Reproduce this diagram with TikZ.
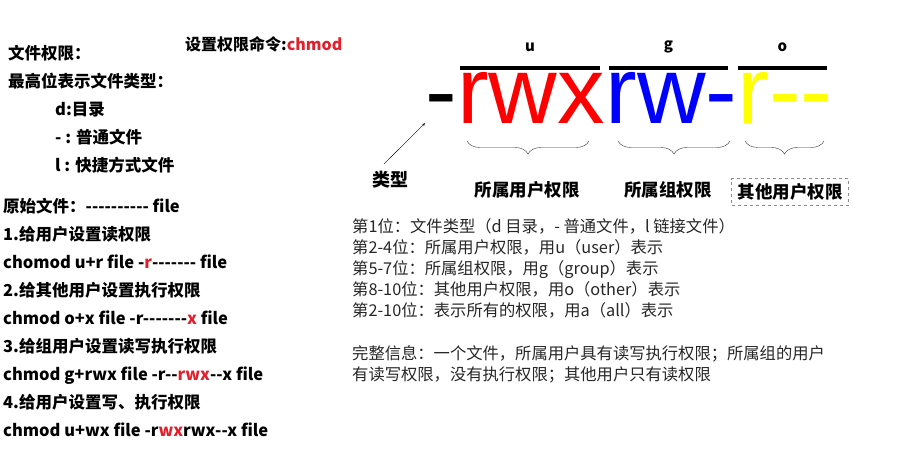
\documentclass[tikz,border=0pt]{standalone}
\usepackage{fontspec}
\usepackage{xcolor}
\usepackage{tikz}
\usetikzlibrary{arrows,decorations.pathreplacing,calc,positioning}

\newfontfamily\cjk{Noto Sans CJK SC}
\newfontfamily\bigarial{Liberation Sans}
\definecolor{cmdred}{RGB}{226,32,44}
\definecolor{permred}{RGB}{255,0,0}
\definecolor{permblue}{RGB}{0,0,255}
\definecolor{permyellow}{RGB}{255,255,0}

\begin{document}
\begin{tikzpicture}[
        x=1pt, y=-1pt,
        line/.style={inner sep=0pt, anchor=west, font=\cjk\bfseries\fontsize{16.5}{17}\selectfont, text height=12pt, text depth=3pt},
        note/.style={inner sep=0pt, anchor=west, font=\cjk\fontsize{16.3}{17}\selectfont, text=black!85, text height=12pt, text depth=3pt},
        big/.style={inner sep=0pt, anchor=base west, font=\bigarial\fontsize{95}{95}\selectfont, text height=66pt, text depth=0pt},
        bar/.style={line width=4.5pt},
        grp/.style={inner sep=1pt, font=\cjk\bfseries\fontsize{15}{16}\selectfont},
        part/.style={font=\cjk\bfseries\fontsize{17.5}{18}\selectfont},
        curly/.style={draw=black!80, thin, decorate, decoration={brace, mirror, amplitude=13pt}}
    ]
        \useasboundingbox (0,0) rectangle (909,453);

        % left column
        \node[line] (perm) at (8,55) {文件权限：};
        \node[line, below=28pt of perm.west, anchor=west] (high) {最高位表示文件类型：};
        \node[line, below=28pt of high.west, anchor=west, xshift=47pt] (tdir) {d:目录};
        \node[line, below=28pt of tdir.west, anchor=west] (tfile) {- : 普通文件};
        \node[line, below=28pt of tfile.west, anchor=west] (tlink) {l : 快捷方式文件};

        \node[line] (orig) at (3,208) {原始文件：---------- file};
        \node[line, below=28pt of orig.west, anchor=west] (s1) {1.给用户设置读权限};
        \node[line, below=28pt of s1.west, anchor=west] (c1) {chomod u+r file -\textcolor{cmdred}{r}------- file};
        \node[line, below=28pt of c1.west, anchor=west] (s2) {2.给其他用户设置执行权限};
        \node[line, below=28pt of s2.west, anchor=west] (c2) {chmod o+x file -r-------\textcolor{cmdred}{x} file};
        \node[line, below=28pt of c2.west, anchor=west] (s3) {3.给组用户设置读写执行权限};
        \node[line, below=28pt of s3.west, anchor=west] (c3) {chmod g+rwx file -r--\textcolor{cmdred}{rwx}--x file};
        \node[line, below=28pt of c3.west, anchor=west] (s4) {4.给用户设置写、执行权限};
        \node[line, below=28pt of s4.west, anchor=west] (c4) {chmod u+wx file -r\textcolor{cmdred}{wx}rwx--x file};

        \node[line, font=\cjk\bfseries\fontsize{16}{17}\selectfont] (cmd) at (185,46) {设置权限命令:\textcolor{cmdred}{chmod}};

        % permission string
        \node[big] (ptype) at (425,123) {-};
        \node[big, text=permred, right=0pt of ptype.base east, anchor=base west] (puser) {rwx};
        \node[big, text=permblue, right=0pt of puser.base east, anchor=base west] (pgroup) {rw-};
        \node[big, text=permyellow, right=0pt of pgroup.base east, anchor=base west] (pother) {r--};

        \coordinate (ul) at (460,68);  \coordinate (ur) at (600,68);
        \coordinate (gl) at (609,68);  \coordinate (gr) at (728,68);
        \coordinate (ol) at (738,68);  \coordinate (or) at (827,68);
        \draw[bar] (ul) -- (ur);
        \draw[bar] (gl) -- (gr);
        \draw[bar] (ol) -- (or);
        \node[grp] (lu) at ($(ul)!0.5!(ur)+(0,-21)$) {u};
        \node[grp] (lg) at ($(gl)!0.5!(gr)+(0,-21)$) {g};
        \node[grp] (lo) at ($(ol)!0.5!(or)+(0,-21)$) {o};

        % braces and labels
        \coordinate (bu1) at (467,141); \coordinate (bu2) at (589,141);
        \coordinate (bg1) at (618,141); \coordinate (bg2) at (730,141);
        \coordinate (bo1) at (745,141); \coordinate (bo2) at (824,141);
        \draw[curly] (bu1) -- (bu2);
        \draw[curly] (bg1) -- (bg2);
        \draw[curly] (bo1) -- (bo2);
        \node[part] (nuser) at (527,190) {所属用户权限};
        \node[part] (ngroup) at (668,190) {所属组权限};
        \node[part, draw=black!45, dashed, thin, inner xsep=6pt, inner ysep=5pt] (nother) at (790,192) {其他用户权限};

        \node[part, font=\cjk\bfseries\fontsize{18}{19}\selectfont] (ntype) at (390,180) {类型};
        \coordinate (tail) at ($(ntype.north)+(-6,-4)$);
        \draw[->, >=stealth, thin] (tail) -- (ptype.south west);

        % notes
        \node[note] (n1) at (352,228) {第1位：文件类型（d 目录，- 普通文件，l 链接文件）};
        \node[note, below=21pt of n1.west, anchor=west] (n2) {第2-4位：所属用户权限，用u（user）表示};
        \node[note, below=21pt of n2.west, anchor=west] (n3) {第5-7位：所属组权限，用g（group）表示};
        \node[note, below=21pt of n3.west, anchor=west] (n4) {第8-10位：其他用户权限，用o（other）表示};
        \node[note, below=21pt of n4.west, anchor=west] (n5) {第2-10位：表示所有的权限，用a（all）表示};
        \node[note] (n6) at (352,355) {完整信息：一个文件，所属用户具有读写执行权限；所属组的用户};
        \node[note, below=21pt of n6.west, anchor=west] (n7) {有读写权限，没有执行权限；其他用户只有读权限};
    \end{tikzpicture}
\end{document}
